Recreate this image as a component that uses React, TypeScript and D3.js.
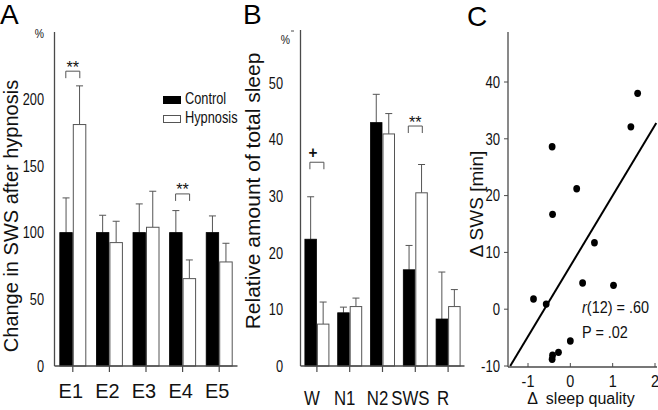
import React from "react";
import * as d3 from "d3";

// ---------- Panel A data ----------
const catsA = ["E1", "E2", "E3", "E4", "E5"];
const ctrlMeanA = [100, 100, 100, 100, 100];
const ctrlErrA = [26, 13, 21.5, 16.5, 12.5];
const hypMeanA = [181, 92.5, 104, 65.5, 78];
const hypErrA = [29, 16, 27, 14, 14];
const ticksA = [0, 50, 100, 150, 200];
const sigA = [
  { cat: "E1", y: 221, label: "**" },
  { cat: "E4", y: 129, label: "**" },
];

// ---------- Panel B data ----------
const catsB = ["W", "N1", "N2", "SWS", "R"];
const ctrlMeanB = [22.4, 9.4, 43, 17, 8.3];
const ctrlErrB = [7.5, 1.0, 5, 4.3, 8.3];
const hypMeanB = [7.4, 10.5, 41, 30.6, 10.5];
const hypErrB = [3.9, 1.5, 3.6, 5.0, 3.0];
const ticksB = [0, 10, 20, 30, 40, 50];
const sigB = [
  { cat: "W", y: 36, label: "+" },
  { cat: "SWS", y: 42.4, label: "**" },
];

// ---------- Panel C data ----------
const dQuality = [1.59, 1.43, -0.43, 0.15, -0.42, 0.57, 0.29, 1.02, -0.87, -0.57, 0.0, -0.28, -0.42, -0.43];
const dSWS = [38.0, 32.1, 28.6, 21.2, 16.7, 11.7, 4.6, 4.2, 1.8, 0.9, -5.6, -7.6, -8.1, -8.8];
const fitXRange = [-1.42, 2.03];
const fitCoef = [7.6, 12.4]; // intercept, slope
const ticksCY = [-10, 0, 10, 20, 30, 40];
const ticksCX = [-1, 0, 1, 2];

const FONT = "'Liberation Sans', Arial, Helvetica, sans-serif";
const AX = "#4a4a4a";
const ERR = "#555";

function NText(props: any) {
  const { x, y, sx = 0.82, size = 16, anchor = "start", children, style, weight, italic } = props;
  return (
    <text
      transform={`translate(${x},${y}) scale(${sx},1)`}
      fontSize={size}
      textAnchor={anchor}
      fontFamily={FONT}
      fontWeight={weight}
      fontStyle={italic}
      style={style}
      fill="#111"
    >
      {children}
    </text>
  );
}

function BarPanel(props: any) {
  const { cats, ctrlMean, ctrlErr, hypMean, hypErr, ticks, sig, xRange, yScale, barW, axisTop, tickLabelX, labelY, labelSx, labelSize, labelShift, tickSx } = props;
  const x = d3.scaleBand<string>().domain(cats).range(xRange).padding(0);
  const base = yScale(0);
  const cx = (c: string) => (x(c) as number) + x.bandwidth() / 2;
  return (
    <g>
      {cats.map((c: string, i: number) => {
        const m = cx(c);
        const cTop = yScale(ctrlMean[i]);
        const cErr = yScale(ctrlMean[i] + ctrlErr[i]);
        const hTop = yScale(hypMean[i]);
        const hErr = yScale(hypMean[i] + hypErr[i]);
        const cc = m - barW / 2 - 0.5;
        const hc = m + barW / 2 + 0.5;
        return (
          <g key={c}>
            <line x1={cc} x2={cc} y1={cTop} y2={cErr} stroke={ERR} strokeWidth={1} />
            <line x1={cc - 3.5} x2={cc + 3.5} y1={cErr} y2={cErr} stroke={ERR} strokeWidth={1} />
            <line x1={hc} x2={hc} y1={hTop} y2={hErr} stroke={ERR} strokeWidth={1} />
            <line x1={hc - 3.5} x2={hc + 3.5} y1={hErr} y2={hErr} stroke={ERR} strokeWidth={1} />
            <rect x={m - barW - 0.5} y={cTop} width={barW} height={base - cTop} fill="#000" stroke="#000" strokeWidth={0.8} />
            <rect x={m + 0.5} y={hTop} width={barW} height={base - hTop} fill="#fff" stroke={ERR} strokeWidth={1} />
            <line x1={m} x2={m} y1={base} y2={base + 6} stroke={AX} strokeWidth={1.2} />
            <text
              transform={`translate(${m + labelShift},${labelY}) scale(${labelSx},1)`}
              textAnchor="middle"
              fontSize={labelSize}
              fontFamily={FONT}
              fill="#111"
            >
              {c}
            </text>
          </g>
        );
      })}
      {sig.map((s: any) => {
        const m = cx(s.cat);
        const yy = yScale(s.y);
        return (
          <g key={s.cat}>
            <path d={`M${m - 7},${yy + 7}V${yy}H${m + 7}V${yy + 7}`} fill="none" stroke={ERR} strokeWidth={1} />
            {s.label === "+" ? (
              <NText x={m - 4} y={yy - 4} size={17} sx={0.9} anchor="middle" weight="bold">+</NText>
            ) : (
              <NText x={m} y={yy + 1.5} size={17} sx={0.95} anchor="middle">**</NText>
            )}
          </g>
        );
      })}
      <line x1={xRange[0]} x2={xRange[0]} y1={axisTop} y2={base} stroke={AX} strokeWidth={1.3} />
      <line x1={xRange[0]} x2={xRange[1]} y1={base} y2={base} stroke={AX} strokeWidth={1.3} />
      {ticks.map((t: number) => (
        <NText key={t} x={tickLabelX} y={yScale(t) + 5.8} size={16} sx={tickSx} anchor="end">{t}</NText>
      ))}
    </g>
  );
}

export default function App() {
  const yA = d3.scaleLinear().domain([0, 200]).range([366, 99.2]);
  const yB = d3.scaleLinear().domain([0, 50]).range([366, 83]);
  const xC = d3.scaleLinear().domain([-1, 2]).range([528, 655]);
  const yC = d3.scaleLinear().domain([-10, 40]).range([366, 82]);
  const fit = d3
    .line<number>()
    .x((d) => xC(d))
    .y((d) => yC(fitCoef[0] + fitCoef[1] * d));

  return (
    <svg width={658} height={410} style={{ position: "absolute", left: 0, top: 0, background: "#fff" }}>
      <rect width={658} height={410} fill="#fff" />
      {/* Panel letters */}
      <text x={0} y={24} fontSize={28} fontFamily={FONT} fill="#000">A</text>
      <text x={243} y={24} fontSize={28} fontFamily={FONT} fill="#000">B</text>
      <text x={467} y={26} fontSize={28} fontFamily={FONT} fill="#000">C</text>

      {/* Panel A */}
      <BarPanel
        cats={catsA}
        ctrlMean={ctrlMeanA}
        ctrlErr={ctrlErrA}
        hypMean={hypMeanA}
        hypErr={hypErrA}
        ticks={ticksA}
        sig={sigA}
        xRange={[54.5, 237.5]}
        yScale={yA}
        barW={12.5}
        axisTop={32}
        tickLabelX={44}
        tickSx={0.8}
        labelY={398}
        labelSx={0.95}
        labelSize={21}
        labelShift={-2}
      />
      <NText x={44} y={38} size={13} sx={0.8} anchor="end">%</NText>
      <text transform="translate(18,216) rotate(-90)" textAnchor="middle" fontSize={20} fontFamily={FONT} fill="#111">
        Change in SWS after hypnosis
      </text>
      {/* Legend */}
      <rect x={163.5} y={96.5} width={17} height={7} fill="#000" stroke="#000" />
      <NText x={185} y={104} size={16} sx={0.8}>Control</NText>
      <rect x={163.5} y={115.5} width={17} height={7} fill="#fff" stroke={ERR} />
      <NText x={185} y={123} size={16} sx={0.8}>Hypnosis</NText>

      {/* Panel B */}
      <BarPanel
        cats={catsB}
        ctrlMean={ctrlMeanB}
        ctrlErr={ctrlErrB}
        hypMean={hypMeanB}
        hypErr={hypErrB}
        ticks={ticksB}
        sig={sigB}
        xRange={[300.5, 464.5]}
        yScale={yB}
        barW={11.5}
        axisTop={30}
        tickLabelX={283}
        tickSx={0.8}
        labelY={405}
        labelSx={0.8}
        labelSize={21}
        labelShift={-5}
      />
      <NText x={290} y={44} size={13} sx={0.8} anchor="end">%</NText>
      <line x1={291} x2={294} y1={31} y2={31} stroke={AX} strokeWidth={1} />
      <text transform="translate(260,191) rotate(-90)" textAnchor="middle" fontSize={21} fontFamily={FONT} fill="#111">
        Relative amount of total sleep
      </text>

      {/* Panel C */}
      <line x1={508} x2={508} y1={32} y2={367} stroke={AX} strokeWidth={1.3} />
      <line x1={508} x2={657} y1={367} y2={367} stroke={AX} strokeWidth={1.3} />
      {ticksCY.map((t) => (
        <g key={t}>
          <line x1={504} x2={508} y1={yC(t)} y2={yC(t)} stroke={AX} strokeWidth={1} />
          <NText x={500} y={yC(t) + 5.8} size={16} sx={0.82} anchor="end">{t}</NText>
        </g>
      ))}
      {ticksCX.map((t) => (
        <g key={t}>
          <line x1={xC(t)} x2={xC(t)} y1={363} y2={367} stroke={AX} strokeWidth={1} />
          <NText x={xC(t)} y={387} size={16} sx={0.9} anchor="middle">{t}</NText>
        </g>
      ))}
      <path d={fit(fitXRange) || ""} fill="none" stroke="#000" strokeWidth={2} />
      {dQuality.map((q, i) => (
        <ellipse key={i} cx={xC(q)} cy={yC(dSWS[i])} rx={3.4} ry={3.7} fill="#000" />
      ))}
      <NText x={582} y={313} size={17} sx={0.85}>
        <tspan fontStyle="italic">r</tspan>(12) = .60
      </NText>
      <NText x={582} y={338} size={17} sx={0.85}>P = .02</NText>
      <text x={581} y={404} textAnchor="middle" fontSize={16} fontFamily={FONT} fill="#111" style={{ whiteSpace: "pre" }}>
        {"Δ  sleep quality"}
      </text>
      <text transform="translate(483,204) rotate(-90)" textAnchor="middle" fontSize={19} fontFamily={FONT} fill="#111">
        Δ SWS [min]
      </text>
    </svg>
  );
}
